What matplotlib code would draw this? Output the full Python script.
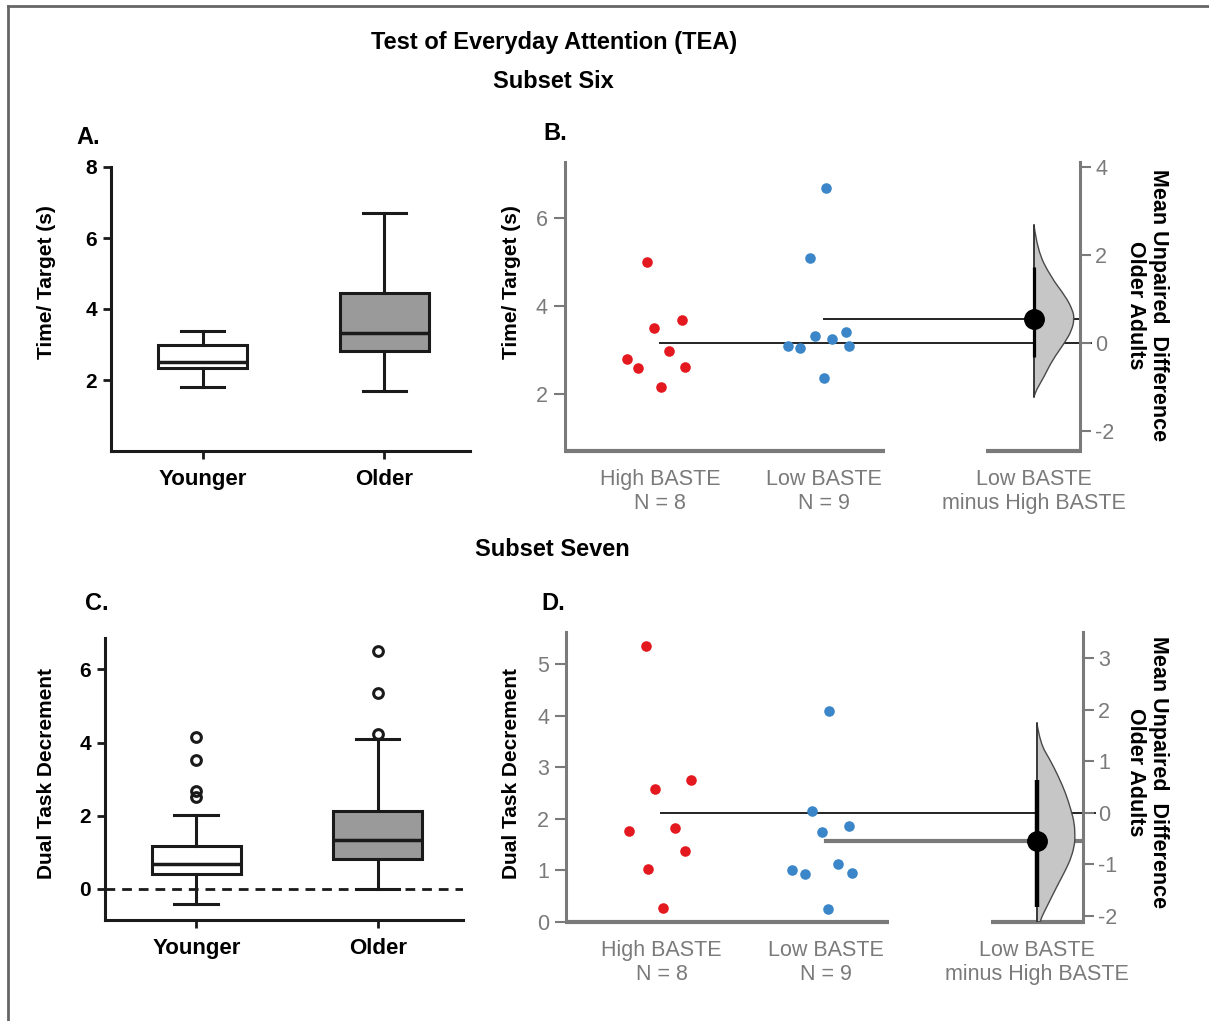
import matplotlib
matplotlib.use('Agg')
import matplotlib.pyplot as plt
from matplotlib.lines import Line2D
from matplotlib.path import Path
from matplotlib.patches import PathPatch
import numpy as np

plt.rcParams['font.family'] = ['Liberation Sans', 'DejaVu Sans']
plt.rcParams['axes.unicode_minus'] = False

# ---------------- data ----------------
age_groups = ['Younger', 'Older']

# Panel A: Time/Target (s) box stats [Younger, Older]
a_whislo = [1.80, 1.69]
a_q1 = [2.33, 2.82]
a_med = [2.52, 3.31]
a_q3 = [2.99, 4.46]
a_whishi = [3.37, 6.70]

# Panel C: Dual Task Decrement box stats [Younger, Older]
c_whislo = [-0.42, 0.00]
c_q1 = [0.41, 0.83]
c_med = [0.68, 1.34]
c_q3 = [1.17, 2.14]
c_whishi = [2.03, 4.10]
c_fliers = [[4.16, 3.52, 2.67, 2.52], [6.50, 5.35, 4.23]]

baste_labels = ['High BASTE\nN = 8', 'Low BASTE\nN = 9', 'Low BASTE\nminus High BASTE']

# Panel B: Time/Target (s), older adults
b_high = [5.00, 3.51, 3.68, 2.98, 2.79, 2.58, 2.62, 2.15]
b_low = [6.69, 5.10, 3.08, 3.05, 3.32, 3.25, 3.42, 3.08, 2.36]
b_ci = [-0.32, 1.73]
b_dens_y = [2.675, 2.107, 1.50, 1.045, 0.743, 0.554, 0.289, -0.014, -0.393, -0.773, -1.075, -1.227]
b_dens_w = [0.0, 0.020, 0.102, 0.194, 0.235, 0.245, 0.231, 0.184, 0.112, 0.061, 0.014, 0.0]

# Panel D: Dual Task Decrement, older adults
d_high = [5.36, 2.58, 2.76, 1.77, 1.82, 1.37, 1.03, 0.26]
d_low = [4.09, 2.14, 1.74, 1.85, 1.00, 0.92, 1.12, 0.95, 0.24]
d_ci = [-1.825, 0.635]
d_dens_y = [1.736, 1.348, 1.023, 0.699, 0.376, 0.052, -0.206, -0.466, -0.594, -0.854,
            -1.113, -1.437, -1.76, -2.02, -2.12]
d_dens_w = [0.0, 0.020, 0.080, 0.131, 0.175, 0.207, 0.228, 0.231, 0.230, 0.211,
            0.175, 0.121, 0.071, 0.030, 0.020]

# swarm horizontal offsets (layout of the dot swarm)
b_high_jit = [-0.08, -0.034, 0.135, 0.055, -0.20, -0.13, 0.153, 0.01]
b_low_jit = [0.012, -0.082, -0.22, -0.147, -0.052, 0.049, 0.135, 0.15, 0.003]
d_high_jit = [-0.094, -0.042, 0.18, -0.20, 0.085, 0.14, -0.085, 0.012]
d_low_jit = [0.019, -0.088, -0.027, 0.14, -0.21, -0.13, 0.07, 0.16, 0.009]

# ---------------- figure ----------------
W, H = 1209, 1021
fig = plt.figure(figsize=(W / 100, H / 100), dpi=100)


def rect(l, r, t, b):
    return [l / W, 1 - b / H, (r - l) / W, (b - t) / H]


# frame
fig.add_artist(Line2D([8 / W, 8 / W], [0, 1 - 6 / H], transform=fig.transFigure, color='#666666', lw=2))
fig.add_artist(Line2D([8 / W, 1], [1 - 6 / H, 1 - 6 / H], transform=fig.transFigure, color='#666666', lw=2))

fig.text(554 / W, 1 - 42 / H, 'Test of Everyday Attention (TEA)', ha='center', va='center', fontsize=17, fontweight='bold')
fig.text(553 / W, 1 - 82 / H, 'Subset Six', ha='center', va='center', fontsize=17, fontweight='bold')
fig.text(552 / W, 1 - 549 / H, 'Subset Seven', ha='center', va='center', fontsize=17, fontweight='bold')
for lab, x, y in [('A.', 88, 138), ('B.', 555, 133), ('C.', 97, 604), ('D.', 553, 603)]:
    fig.text(x / W, 1 - y / H, lab, ha='center', va='center', fontsize=17, fontweight='bold')


def boxpanel(ax, whislo, q1, med, q3, whishi, fliers, ylim, yticks, ylabel):
    stats = []
    for i in range(2):
        stats.append(dict(whislo=whislo[i], q1=q1[i], med=med[i], q3=q3[i], whishi=whishi[i],
                          fliers=fliers[i] if fliers else []))
    bp = ax.bxp(stats, positions=[1, 2], widths=0.49, capwidths=0.24, patch_artist=True,
                boxprops=dict(lw=2.2, edgecolor='#1a1a1a'),
                whiskerprops=dict(lw=2.2, color='#1a1a1a'),
                capprops=dict(lw=2.2, color='#1a1a1a'),
                medianprops=dict(lw=2.5, color='#1a1a1a'),
                flierprops=dict(marker='o', mfc='none', mec='#1a1a1a', ms=7, mew=2.2))
    bp['boxes'][0].set_facecolor('white')
    bp['boxes'][1].set_facecolor('#9a9a9a')
    ax.set_xlim(0.497, 2.47)
    ax.set_ylim(*ylim)
    ax.set_yticks(yticks)
    ax.set_xticks([1, 2])
    ax.set_xticklabels(age_groups)
    for s in ['top', 'right']:
        ax.spines[s].set_visible(False)
    for s in ['left', 'bottom']:
        ax.spines[s].set_linewidth(2.2)
        ax.spines[s].set_color('#1a1a1a')
    ax.tick_params(axis='both', width=2, length=6, color='#1a1a1a')
    ax.tick_params(axis='y', labelsize=15, pad=4)
    ax.tick_params(axis='x', labelsize=16, pad=7)
    for t in ax.get_xticklabels() + ax.get_yticklabels():
        t.set_fontweight('bold')
    ax.set_ylabel(ylabel, fontsize=15, fontweight='bold')


axA = fig.add_axes(rect(111, 470, 167, 451))
boxpanel(axA, a_whislo, a_q1, a_med, a_q3, a_whishi, None, (0, 8), [2, 4, 6, 8], 'Time/ Target (s)')
axA.yaxis.set_label_coords((56 - 111) / (470 - 111), (451 - 282) / (451 - 167))

axC = fig.add_axes(rect(105, 463, 638, 920))
boxpanel(axC, c_whislo, c_q1, c_med, c_q3, c_whishi, c_fliers, (-0.85, 6.86), [0, 2, 4, 6], 'Dual Task Decrement')
axC.axhline(0, color='#1a1a1a', lw=2, ls=(0, (3.5, 2.5)), zorder=0.5)
axC.yaxis.set_label_coords((56 - 105) / (463 - 105), (920 - 773) / (920 - 638))

GRAY = '#7a7a7a'
RED = '#e3191f'
BLUE = '#3a86c8'
XPOS = [1, 2, 3.28]


def smooth_half_violin(ax, x0, ys, ws):
    pts = [(x0 + w, y) for y, w in zip(ys, ws)]
    verts = [pts[0]]
    codes = [Path.MOVETO]
    for i in range(1, len(pts) - 1):
        mid = ((pts[i][0] + pts[i + 1][0]) / 2, (pts[i][1] + pts[i + 1][1]) / 2)
        verts += [pts[i], mid]
        codes += [Path.CURVE3, Path.CURVE3]
    verts += [pts[-1], (x0, ys[-1]), (x0, ys[0]), (x0, ys[0])]
    codes += [Path.LINETO, Path.LINETO, Path.LINETO, Path.CLOSEPOLY]
    patch = PathPatch(Path(verts, codes), facecolor='#c6c6c6', edgecolor='#4a4a4a', lw=1.0, zorder=1)
    ax.add_patch(patch)


def estpanel(ax, high, low, hjit, ljit, ci, dens_y, dens_w, ylim, ryticks, ylabel, seg1, seg2,
             ci_lw, low_line_style, box, label_y):
    l, r, t, b = box
    ax.set_xlim(0.42, 3.56)
    ax.set_ylim(*ylim)
    hm = float(np.mean(high))
    lm = float(np.mean(low))
    ax.scatter(np.add(1, hjit), high, s=58, color=RED, zorder=3, linewidths=0)
    ax.scatter(np.add(2, ljit), low, s=58, color=BLUE, zorder=3, linewidths=0)
    ax.plot([1, 3.56 + 0.07], [hm, hm], color='#222222', lw=1.4, clip_on=False, zorder=2)
    ax.plot([2, 3.56], [lm, lm], **low_line_style, zorder=2)
    for s in ['top', 'right', 'bottom']:
        ax.spines[s].set_visible(False)
    ax.spines['left'].set_color(GRAY)
    ax.spines['left'].set_linewidth(2.2)
    for a0, a1 in [seg1, seg2]:
        ax.plot([a0, a1], [0, 0], transform=ax.get_xaxis_transform(), color=GRAY, lw=3,
                clip_on=False, solid_capstyle='butt')
    ax.set_xticks(XPOS)
    ax.set_xticklabels(baste_labels)
    ax.tick_params(axis='x', length=0, pad=13, labelsize=15.5, labelcolor=GRAY)
    ax.tick_params(axis='y', length=8, width=1.5, color=GRAY, labelsize=15.5, labelcolor=GRAY, pad=4)
    ax.set_ylabel(ylabel, fontsize=15, fontweight='bold')
    ax.yaxis.set_label_coords((521 - l) / (r - l), (b - label_y) / (b - t))

    ax2 = ax.twinx()
    ax2.set_ylim(ylim[0] - hm, ylim[1] - hm)
    ax2.set_yticks(ryticks)
    for s in ['top', 'left', 'bottom']:
        ax2.spines[s].set_visible(False)
    ax2.spines['right'].set_color(GRAY)
    ax2.spines['right'].set_linewidth(2.2)
    ax2.tick_params(axis='y', length=8, width=1.5, color=GRAY, labelsize=15.5, labelcolor=GRAY, pad=3)
    xd = XPOS[2]
    smooth_half_violin(ax2, xd, dens_y, dens_w)
    ax2.plot([xd, xd], [min(dens_y), max(dens_y)], color='#333333', lw=1.2, zorder=2)
    ax2.plot([xd, xd], ci, color='black', lw=ci_lw, zorder=3, solid_capstyle='butt')
    ax2.plot([xd], [lm - hm], marker='o', ms=14, color='black', zorder=4)
    ax2.set_xlim(0.42, 3.56)
    return ax2


axB = fig.add_axes(rect(564.6, 1080, 162, 451))
estpanel(axB, b_high, b_low, b_high_jit, b_low_jit, b_ci, b_dens_y, b_dens_w, (0.70, 7.28),
         [-2, 0, 2, 4], 'Time/ Target (s)', (0.42, 2.37), (2.99, 3.56), 2.3,
         dict(color='#222222', lw=1.4), (564.6, 1080, 162, 451), 282)
axB.set_yticks([2, 4, 6])

axD = fig.add_axes(rect(566, 1083, 631.7, 921.7))
estpanel(axD, d_high, d_low, d_high_jit, d_low_jit, d_ci, d_dens_y, d_dens_w, (0, 5.63),
         [-2, -1, 0, 1, 2, 3], 'Dual Task Decrement', (0.42, 2.38), (3.0, 3.56), 3.2,
         dict(color='#7a7a7a', lw=3), (566, 1083, 631.7, 921.7), 773)
axD.set_yticks([0, 1, 2, 3, 4, 5])

for yc in [305, 772]:
    fig.text(1147 / W, 1 - yc / H, 'Mean Unpaired  Difference\nOlder Adults', rotation=270,
             ha='center', va='center', multialignment='center', fontsize=15.5, fontweight='bold',
             linespacing=1.15)

fig.savefig('out.png', dpi=100)
